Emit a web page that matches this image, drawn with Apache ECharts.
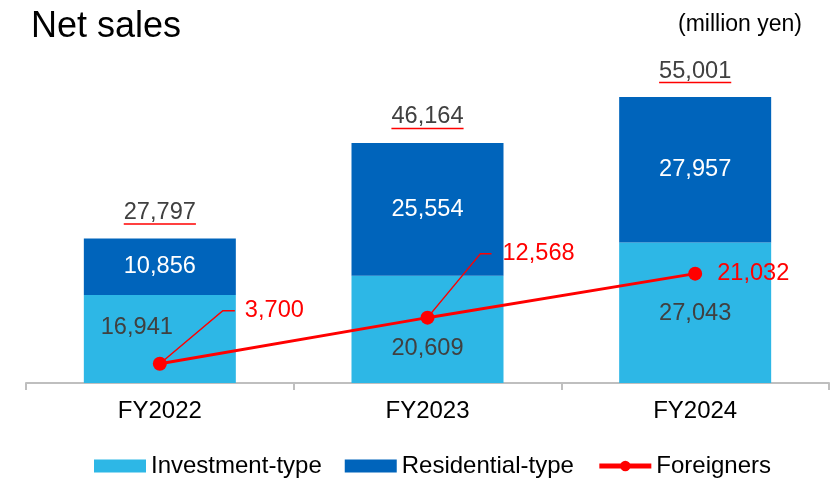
<!DOCTYPE html>
<html>
<head>
<meta charset="utf-8">
<script src="https://cdn.jsdelivr.net/npm/echarts@6/dist/echarts.min.js"></script>
<style>
html,body{margin:0;padding:0;background:#fff;}
#chart{width:839px;height:478px;}
</style>
</head>
<body>
<div id="chart"></div>
<script>
// ---- data ----
const categories = ['FY2022', 'FY2023', 'FY2024'];
const investment = [16941, 20609, 27043];
const residential = [10856, 25554, 27957];
const totals = [27797, 46164, 55001];
const foreigners = [3700, 12568, 21032];

// ---- styles ----
const FONT = '"Liberation Sans", Arial, sans-serif';
const LIGHT = '#2DB7E6';
const DARK = '#0064BB';
const RED = '#FF0000';
const NUM = 23.6;
const invLabelOffsets = [[-23, -11], [0, 19], [0, 1]];
const forLabelStyle = [
  {leader: [63, -53, 75], text: [85, -53]},
  {leader: [53, -64, 64], text: [75, -64]},
  {leader: null, text: [22, 0]}
];

const fmt = v => Number(v).toLocaleString('en-US');
const ctx = document.createElement('canvas').getContext('2d');
function measure(t, size) { ctx.font = size + 'px ' + FONT; return ctx.measureText(t).width; }

const chart = echarts.init(document.getElementById('chart'), null, {renderer: 'canvas'});
chart.setOption({
  animation: false,
  backgroundColor: '#fff',
  title: [
    {text: 'Net sales', left: 26, top: 4, textStyle: {fontFamily: FONT, fontSize: 36, fontWeight: 'normal', color: '#000'}},
    {text: '(million yen)', right: 32, top: 8, textStyle: {fontFamily: FONT, fontSize: 23, fontWeight: 'normal', color: '#000'}}
  ],
  legend: {
    data: [
      {name: 'Investment-type', icon: 'rect'},
      {name: 'Residential-type', icon: 'rect'},
      {name: 'Foreigners', lineStyle: {width: 5}}
    ],
    left: 94, top: 454, padding: 0,
    itemWidth: 52, itemHeight: 13, itemGap: 23,
    textStyle: {fontFamily: FONT, fontSize: 24, color: '#000'}
  },
  grid: {left: 26, right: 10, top: 71, bottom: 95, containLabel: false},
  xAxis: {
    type: 'category', data: categories,
    axisLine: {lineStyle: {color: '#BFBFBF', width: 2}},
    axisTick: {show: true, length: 7, lineStyle: {color: '#BFBFBF', width: 2}},
    axisLabel: {fontFamily: FONT, fontSize: 24, color: '#000', margin: 16}
  },
  yAxis: {type: 'value', min: 0, max: 60000, show: false, splitLine: {show: false}},
  series: [
    {
      name: 'Investment-type', type: 'bar', stack: 'total', barWidth: 152,
      itemStyle: {color: LIGHT},
      data: investment.map((v, i) => ({value: v, label: {offset: invLabelOffsets[i]}})),
      label: {show: true, position: 'inside', fontFamily: FONT, fontSize: NUM, color: '#404040', formatter: p => fmt(p.value)}
    },
    {
      name: 'Residential-type', type: 'bar', stack: 'total', barWidth: 152,
      itemStyle: {color: DARK},
      data: residential,
      label: {show: true, position: 'inside', fontFamily: FONT, fontSize: NUM, color: '#fff', formatter: p => fmt(p.value)}
    },
    {
      name: 'Foreigners', type: 'line', z: 10,
      data: foreigners,
      symbol: 'circle', symbolSize: 14,
      itemStyle: {color: RED},
      lineStyle: {color: RED, width: 3}
    },
    {
      name: 'totals', type: 'custom', clip: false, z: 5,
      data: totals.map((v, i) => [i, v]),
      encode: {x: 0, y: 1},
      renderItem: (params, api) => {
        const p = api.coord([api.value(0), api.value(1)]);
        const t = fmt(api.value(1));
        const w = measure(t, NUM);
        return {type: 'group', children: [
          {type: 'text', style: {text: t, x: p[0], y: p[1] - 26, align: 'center', verticalAlign: 'middle', font: NUM + 'px ' + FONT, fill: '#404040'}},
          {type: 'line', shape: {x1: p[0] - w / 2, y1: p[1] - 14.5, x2: p[0] + w / 2, y2: p[1] - 14.5}, style: {stroke: RED, lineWidth: 1.5}}
        ]};
      }
    },
    {
      name: 'forLabels', type: 'custom', clip: false, z: 11,
      data: foreigners.map((v, i) => [i, v]),
      encode: {x: 0, y: 1},
      renderItem: (params, api) => {
        const i = params.dataIndex;
        const p = api.coord([api.value(0), api.value(1)]);
        const s = forLabelStyle[i];
        const children = [];
        if (s.leader) {
          children.push({type: 'polyline', shape: {points: [[p[0], p[1]], [p[0] + s.leader[0], p[1] + s.leader[1]], [p[0] + s.leader[2], p[1] + s.leader[1]]]}, style: {stroke: RED, lineWidth: 1.5, fill: null}});
        }
        children.push({type: 'text', style: {text: fmt(api.value(1)), x: p[0] + s.text[0], y: p[1] + s.text[1], align: 'left', verticalAlign: 'middle', font: NUM + 'px ' + FONT, fill: RED}});
        return {type: 'group', children};
      }
    }
  ]
});
</script>
</body>
</html>
